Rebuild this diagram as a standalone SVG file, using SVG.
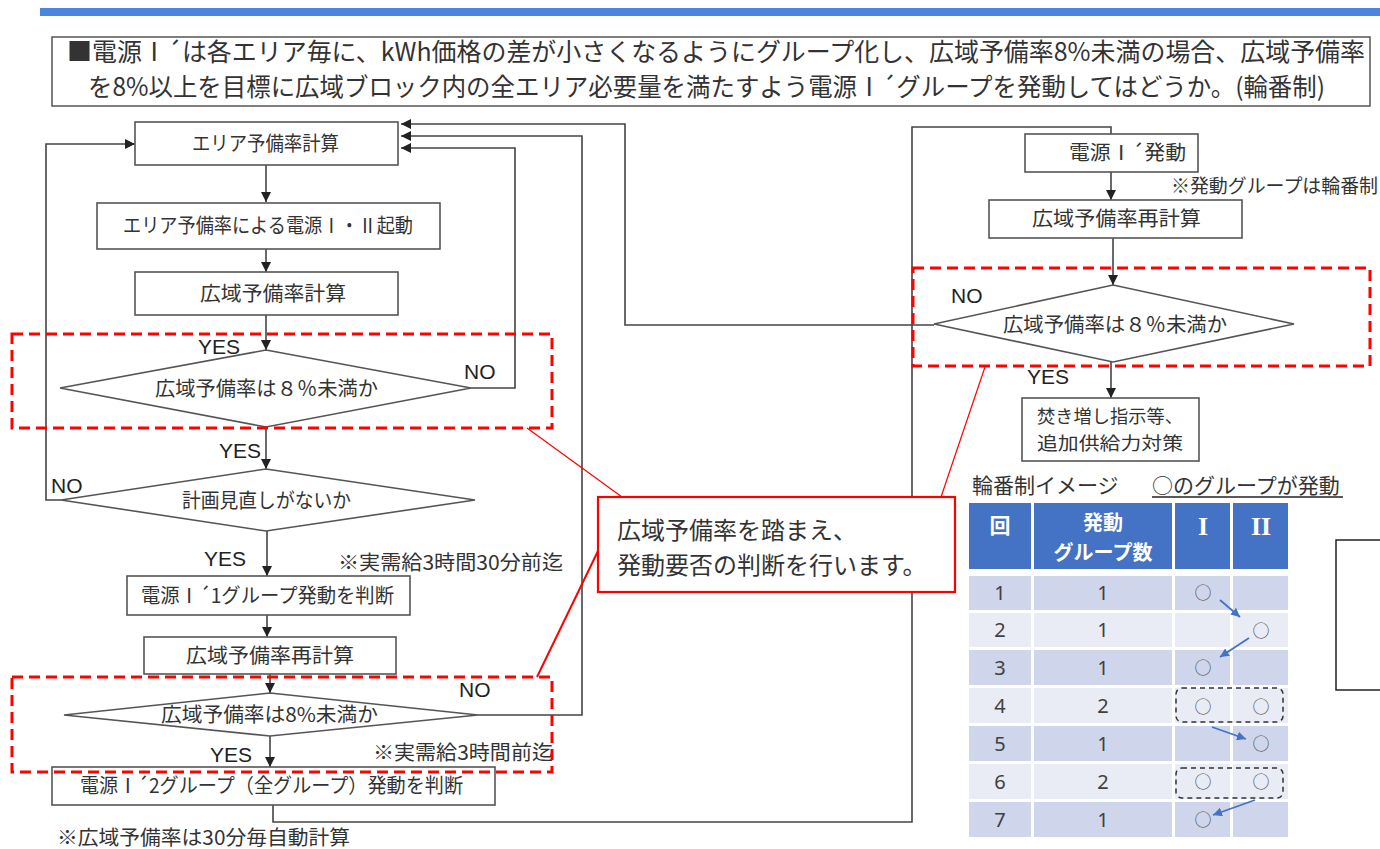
<svg xmlns="http://www.w3.org/2000/svg" width="1380" height="849" viewBox="0 0 1380 849">
<style>
.jp{font-family:'Noto Sans CJK JP',sans-serif;fill:#333}
.nt{font-family:'Noto Sans CJK JP',sans-serif;fill:#333;font-size:20px}
.lat{font-family:'Liberation Sans','Noto Sans CJK JP',sans-serif;fill:#222}
.box{fill:#fff;stroke:#555;stroke-width:1.6}
.ln{fill:none;stroke:#444;stroke-width:1.6}
.red{fill:none;stroke:#ff0000;stroke-width:3;stroke-dasharray:11 6}
.hd{fill:#4472c4}
.odd{fill:#cfd5ea}
.even{fill:#e9ebf5}
.th{font-family:'Noto Sans CJK JP',sans-serif;font-weight:bold;fill:#fff}
.rn{font-family:'Liberation Serif','Noto Sans CJK JP',serif;font-weight:bold;fill:#fff;font-size:26px}
.td{font-family:'Noto Sans','Noto Sans CJK JP',sans-serif;fill:#404040;font-size:20px}
.ci{font-family:'Noto Sans CJK JP',sans-serif;fill:#555;font-size:17px}
</style>
<defs>
<marker id="ah" markerUnits="userSpaceOnUse" markerWidth="10" markerHeight="10" refX="10" refY="5" orient="auto"><path d="M0,0 L10,5 L0,10 z" fill="#222"/></marker>
<marker id="bh" markerUnits="userSpaceOnUse" markerWidth="9" markerHeight="9" refX="9" refY="4.5" orient="auto"><path d="M0,0 L9,4.5 L0,9 z" fill="#4472c4"/></marker>
</defs>
<rect width="1380" height="849" fill="#fff"/>
<g id="header">
<rect x="40" y="8" width="1340" height="8" fill="#4a86e0"/>
<rect x="52" y="37" width="1318" height="69" fill="#fff" stroke="#555" stroke-width="1.5"/>
<text class="jp" x="67" y="61" font-size="25" fill="#222" textLength="1298" lengthAdjust="spacingAndGlyphs">■電源Ⅰ´は各エリア毎に、kWh価格の差が小さくなるようにグループ化し、広域予備率8%未満の場合、広域予備率</text>
<text class="jp" x="88" y="96" font-size="25" fill="#222" textLength="1237" lengthAdjust="spacingAndGlyphs">を8%以上を目標に広域ブロック内の全エリア必要量を満たすよう電源Ⅰ´グループを発動してはどうか。(輪番制)</text>
</g>
<g id="connectors">
<path class="ln" d="M266,165 V202" marker-end="url(#ah)"/>
<path class="ln" d="M266,249 V272" marker-end="url(#ah)"/>
<path class="ln" d="M266,315 V350" marker-end="url(#ah)"/>
<path class="ln" d="M266,427 V469" marker-end="url(#ah)"/>
<path class="ln" d="M267,531 V576" marker-end="url(#ah)"/>
<path class="ln" d="M267,615 V637" marker-end="url(#ah)"/>
<path class="ln" d="M270,674 V693" marker-end="url(#ah)"/>
<path class="ln" d="M270,736 V767" marker-end="url(#ah)"/>
<path class="ln" d="M273,805 V822 H912 V127 H1111 V134"/>
<path class="ln" d="M471,388 H515 V148 H401" marker-end="url(#ah)"/>
<path class="ln" d="M478,715 H582 V136 H401" marker-end="url(#ah)"/>
<path class="ln" d="M934,325 H625 V124 H401" marker-end="url(#ah)"/>
<path class="ln" d="M61,500 H46 V144 H135" marker-end="url(#ah)"/>
<path class="ln" d="M1111,172 V200" marker-end="url(#ah)"/>
<path class="ln" d="M1113,238 V285" marker-end="url(#ah)"/>
<path class="ln" d="M1111,362 V398" marker-end="url(#ah)"/>
</g>
<g id="nA"><rect class="box" x="135" y="122" width="263" height="43"/><text class="nt" x="192" y="151" textLength="147" lengthAdjust="spacingAndGlyphs">エリア予備率計算</text></g>
<g id="nB"><rect class="box" x="97" y="203" width="343" height="46"/><text class="nt" x="123" y="233" textLength="290" lengthAdjust="spacingAndGlyphs">エリア予備率による電源Ⅰ・Ⅱ起動</text></g>
<g id="nC"><rect class="box" x="135" y="272" width="263" height="43"/><text class="nt" x="200" y="301" textLength="146" lengthAdjust="spacingAndGlyphs">広域予備率計算</text></g>
<g id="nD1"><polygon class="box" points="266,350 471,388 266,427 60,388"/><text class="nt" x="155" y="396" textLength="223" lengthAdjust="spacingAndGlyphs">広域予備率は８％未満か</text>
<text class="lat" x="198" y="354" font-size="21">YES</text><text class="lat" x="464" y="379" font-size="21">NO</text></g>
<g id="nD2"><polygon class="box" points="266,469 475,500 266,531 61,500"/><text class="nt" x="182" y="508" textLength="169" lengthAdjust="spacingAndGlyphs">計画見直しがないか</text>
<text class="lat" x="219" y="458" font-size="21">YES</text><text class="lat" x="51" y="493" font-size="21">NO</text><text class="lat" x="204" y="566" font-size="21">YES</text></g>
<g id="nE"><rect class="box" x="127" y="576" width="283" height="39"/><text class="nt" x="141" y="603" textLength="253" lengthAdjust="spacingAndGlyphs">電源Ⅰ´1グループ発動を判断</text></g>
<text class="jp" x="338" y="570" font-size="20" textLength="225" lengthAdjust="spacingAndGlyphs">※実需給3時間30分前迄</text>
<g id="nF"><rect class="box" x="144" y="637" width="252" height="37"/><text class="nt" x="186" y="663" textLength="168" lengthAdjust="spacingAndGlyphs">広域予備率再計算</text></g>
<g id="nD3"><polygon class="box" points="270,693 478,715 270,736 64,715"/><text class="nt" x="161" y="722" textLength="217" lengthAdjust="spacingAndGlyphs">広域予備率は8%未満か</text>
<text class="lat" x="459" y="697" font-size="21">NO</text><text class="lat" x="210" y="762" font-size="21">YES</text></g>
<text class="jp" x="373" y="760" font-size="20" textLength="180" lengthAdjust="spacingAndGlyphs">※実需給3時間前迄</text>
<g id="nG"><rect class="box" x="52" y="767" width="443" height="38"/><text class="nt" x="80" y="793" textLength="383" lengthAdjust="spacingAndGlyphs">電源Ⅰ´2グループ（全グループ）発動を判断</text></g>
<text class="jp" x="57" y="845" font-size="20" textLength="293" lengthAdjust="spacingAndGlyphs">※広域予備率は30分毎自動計算</text>
<g id="nH"><rect class="box" x="1025" y="134" width="173" height="38"/><text class="nt" x="1069" y="160" textLength="117" lengthAdjust="spacingAndGlyphs">電源Ⅰ´発動</text></g>
<text class="jp" x="1171" y="193" font-size="19" textLength="207" lengthAdjust="spacingAndGlyphs">※発動グループは輪番制</text>
<g id="nI"><rect class="box" x="989" y="200" width="253" height="38"/><text class="nt" x="1032" y="226" textLength="169" lengthAdjust="spacingAndGlyphs">広域予備率再計算</text></g>
<g id="nJ"><polygon class="box" points="1113,285 1294,324 1113,362 934,324"/><text class="nt" x="1003" y="332" textLength="224" lengthAdjust="spacingAndGlyphs">広域予備率は８％未満か</text>
<text class="lat" x="951" y="303" font-size="21">NO</text><text class="lat" x="1027" y="384" font-size="21">YES</text></g>
<g id="nK"><rect class="box" x="1022" y="398" width="177" height="63"/><text class="jp" x="1037" y="423" font-size="18" textLength="146" lengthAdjust="spacingAndGlyphs">焚き増し指示等、</text><text class="jp" x="1037" y="450" font-size="18" textLength="146" lengthAdjust="spacingAndGlyphs">追加供給力対策</text></g>
<g id="highlights">
<rect class="red" x="12" y="334" width="540" height="94"/>
<rect class="red" x="12" y="677" width="540" height="95"/>
<rect class="red" x="913" y="268" width="457" height="98"/>
<line x1="527" y1="428" x2="622" y2="497" stroke="#ff0000" stroke-width="1.2"/>
<line x1="537" y1="677" x2="598" y2="551" stroke="#ff0000" stroke-width="2"/>
<line x1="985" y1="367" x2="941" y2="497" stroke="#ff0000" stroke-width="1.2"/>
</g>
<g id="callout">
<rect x="598" y="497" width="357" height="95" fill="#fff" stroke="#ff0000" stroke-width="2.2"/>
<text class="jp" x="617" y="539" font-size="24" fill="#111">広域予備率を踏まえ、</text>
<text class="jp" x="617" y="574" font-size="24" fill="#111">発動要否の判断を行います。</text>
</g>
<g id="table">
<text class="jp" x="972" y="493" font-size="21" fill="#222">輪番制イメージ</text>
<text class="jp" x="1152" y="493" font-size="21" fill="#222">○のグループが発動</text>
<line x1="1152" y1="497" x2="1343" y2="497" stroke="#222" stroke-width="1.3"/>
<rect class="hd" x="969" y="503" width="62" height="66"/>
<rect class="hd" x="1034" y="503" width="138" height="66"/>
<rect class="hd" x="1175" y="503" width="55" height="66"/>
<rect class="hd" x="1233" y="503" width="55" height="66"/>
<text class="th" x="1000" y="533" font-size="21" text-anchor="middle">回</text>
<text class="th" x="1103" y="530" font-size="20" text-anchor="middle">発動</text>
<text class="th" x="1103" y="560" font-size="20" text-anchor="middle">グループ数</text>
<text class="rn" x="1203" y="535" text-anchor="middle">I</text>
<text class="rn" x="1261" y="535" text-anchor="middle">II</text>
<g id="r1"><rect class="odd" x="969" y="576" width="62" height="34"/><rect class="odd" x="1034" y="576" width="138" height="34"/><rect class="odd" x="1175" y="576" width="55" height="34"/><rect class="odd" x="1233" y="576" width="55" height="34"/><text class="td" x="1000" y="600" text-anchor="middle">1</text><text class="td" x="1103" y="600" text-anchor="middle">1</text></g>
<g id="r2"><rect class="even" x="969" y="613" width="62" height="34"/><rect class="even" x="1034" y="613" width="138" height="34"/><rect class="even" x="1175" y="613" width="55" height="34"/><rect class="even" x="1233" y="613" width="55" height="34"/><text class="td" x="1000" y="637" text-anchor="middle">2</text><text class="td" x="1103" y="637" text-anchor="middle">1</text></g>
<g id="r3"><rect class="odd" x="969" y="650" width="62" height="35"/><rect class="odd" x="1034" y="650" width="138" height="35"/><rect class="odd" x="1175" y="650" width="55" height="35"/><rect class="odd" x="1233" y="650" width="55" height="35"/><text class="td" x="1000" y="675" text-anchor="middle">3</text><text class="td" x="1103" y="675" text-anchor="middle">1</text></g>
<g id="r4"><rect class="even" x="969" y="688" width="62" height="35"/><rect class="even" x="1034" y="688" width="138" height="35"/><rect class="even" x="1175" y="688" width="55" height="35"/><rect class="even" x="1233" y="688" width="55" height="35"/><text class="td" x="1000" y="713" text-anchor="middle">4</text><text class="td" x="1103" y="713" text-anchor="middle">2</text></g>
<g id="r5"><rect class="odd" x="969" y="726" width="62" height="35"/><rect class="odd" x="1034" y="726" width="138" height="35"/><rect class="odd" x="1175" y="726" width="55" height="35"/><rect class="odd" x="1233" y="726" width="55" height="35"/><text class="td" x="1000" y="751" text-anchor="middle">5</text><text class="td" x="1103" y="751" text-anchor="middle">1</text></g>
<g id="r6"><rect class="even" x="969" y="764" width="62" height="35"/><rect class="even" x="1034" y="764" width="138" height="35"/><rect class="even" x="1175" y="764" width="55" height="35"/><rect class="even" x="1233" y="764" width="55" height="35"/><text class="td" x="1000" y="789" text-anchor="middle">6</text><text class="td" x="1103" y="789" text-anchor="middle">2</text></g>
<g id="r7"><rect class="odd" x="969" y="802" width="62" height="35"/><rect class="odd" x="1034" y="802" width="138" height="35"/><rect class="odd" x="1175" y="802" width="55" height="35"/><rect class="odd" x="1233" y="802" width="55" height="35"/><text class="td" x="1000" y="827" text-anchor="middle">7</text><text class="td" x="1103" y="827" text-anchor="middle">1</text></g>
<g id="marks">
<text class="ci" x="1203" y="599" text-anchor="middle">○</text>
<text class="ci" x="1261" y="637" text-anchor="middle">○</text>
<text class="ci" x="1203" y="674" text-anchor="middle">○</text>
<text class="ci" x="1203" y="713" text-anchor="middle">○</text>
<text class="ci" x="1261" y="713" text-anchor="middle">○</text>
<text class="ci" x="1261" y="750" text-anchor="middle">○</text>
<text class="ci" x="1203" y="788" text-anchor="middle">○</text>
<text class="ci" x="1261" y="788" text-anchor="middle">○</text>
<text class="ci" x="1203" y="826" text-anchor="middle">○</text>
<rect x="1176" y="688" width="107" height="34" rx="6" fill="none" stroke="#333" stroke-width="1.5" stroke-dasharray="5 4"/>
<rect x="1176" y="768" width="107" height="30" rx="6" fill="none" stroke="#333" stroke-width="1.5" stroke-dasharray="5 4"/>
<line x1="1220" y1="600" x2="1240" y2="617" stroke="#4472c4" stroke-width="1.8" marker-end="url(#bh)"/>
<line x1="1249" y1="638" x2="1220" y2="657" stroke="#4472c4" stroke-width="1.8" marker-end="url(#bh)"/>
<line x1="1212" y1="727" x2="1246" y2="739" stroke="#4472c4" stroke-width="1.8" marker-end="url(#bh)"/>
<line x1="1255" y1="800" x2="1213" y2="815" stroke="#4472c4" stroke-width="1.8" marker-end="url(#bh)"/>
</g>
</g>
<rect x="1336" y="540" width="60" height="150" fill="#fff" stroke="#222" stroke-width="1.5"/>
</svg>
